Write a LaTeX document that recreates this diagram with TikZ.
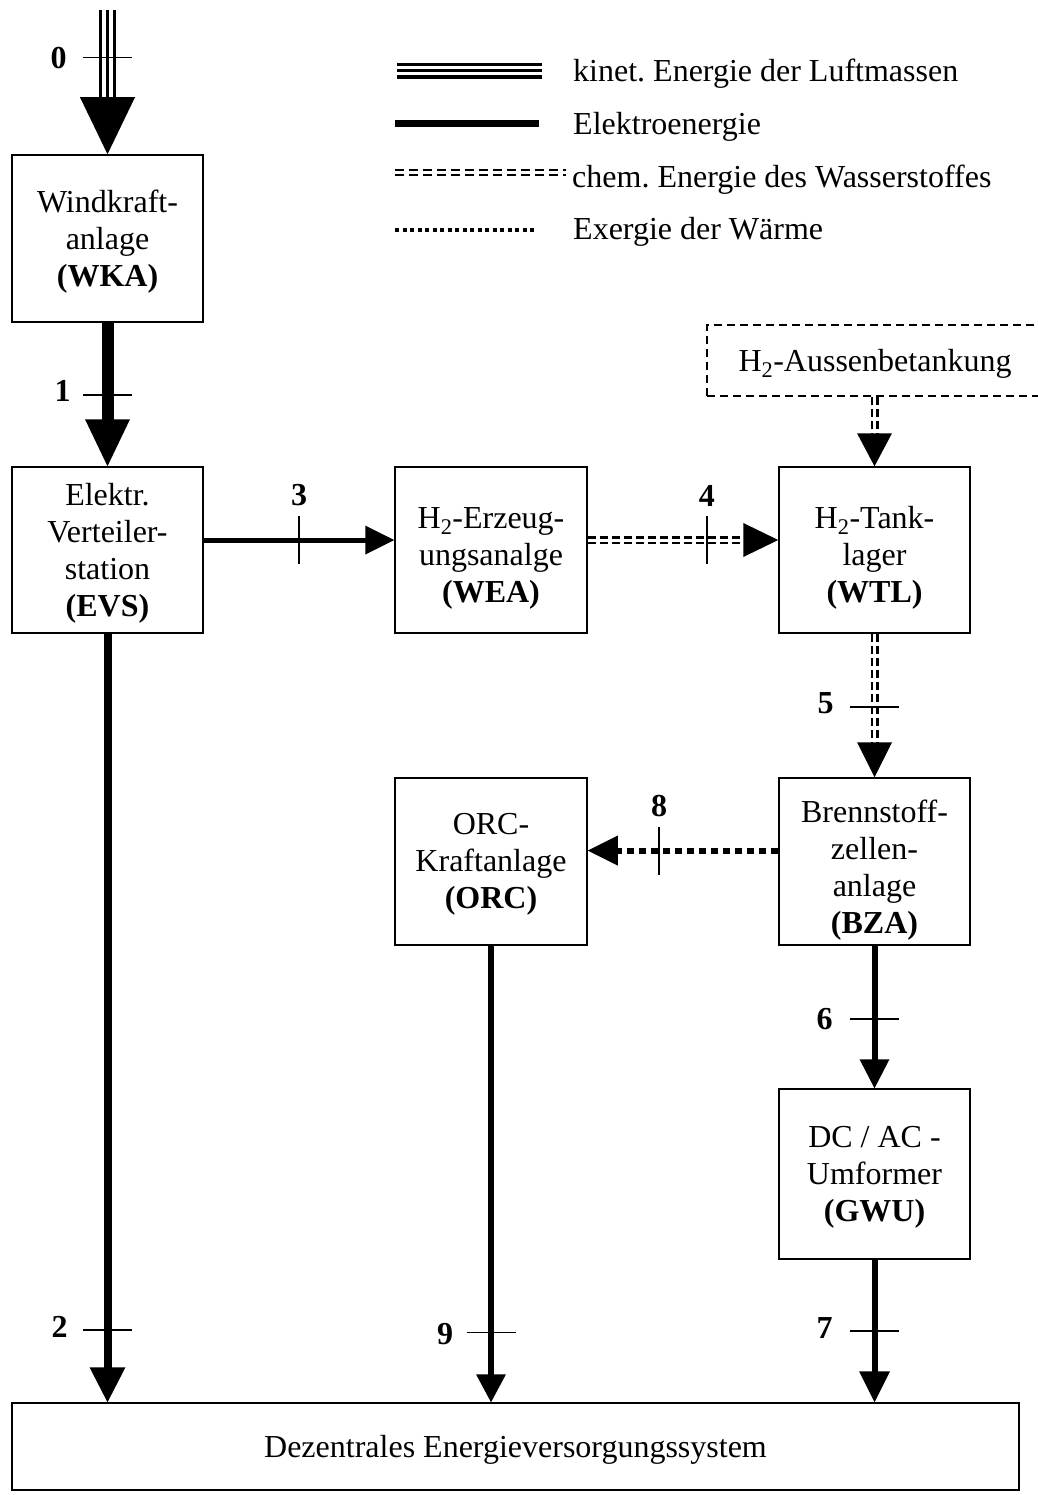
\documentclass[tikz,border=0pt]{standalone}
\usepackage{fontspec}
\setmainfont{Liberation Serif}
\frenchspacing
% filled arrow heads: #1 tip, #2 length, #3 width
\newcommand\hdown[3]{\fill (#1) -- ++({-(#3)/2},{-(#2)}) -- ++({#3},0) -- cycle;}
\newcommand\hright[3]{\fill (#1) -- ++({-(#2)},{-(#3)/2}) -- ++(0,{#3}) -- cycle;}
\newcommand\hleft[3]{\fill (#1) -- ++({#2},{-(#3)/2}) -- ++(0,{#3}) -- cycle;}
\begin{document}
\begin{tikzpicture}[x=1pt,y=-1pt,
  txt/.style={align=center, inner sep=0pt, font=\fontsize{32}{37}\selectfont},
  box/.style={draw, line width=1.5pt, inner sep=0pt},
  unit/.style={box, minimum width=191pt, minimum height=167pt},
  inner/.style={label={[txt, yshift=-3pt]center:#1}},
  num/.style={font=\fontsize{32}{37}\selectfont\bfseries, inner sep=0pt},
  legtext/.style={txt, anchor=west},
  tick/.style={line width=1.5pt},
  chem/.style={double, line width=2.5pt, double distance=3pt, dash pattern=on 8pt off 4pt},
  heat/.style={line width=6pt, dash pattern=on 7pt off 5pt},
  wind/.style={double, line width=3pt, double distance=11pt},
]
\useasboundingbox (0,0) rectangle (1037,1495);

% ---------- legend ----------
\coordinate (ka) at (397,70.7);  \coordinate (kb) at (542,70.7);
\draw[double, line width=3.5pt, double distance=9pt] (ka) -- (kb);
\draw[line width=3.5pt] (ka) -- (kb);
\node[legtext] (lk) at (573,74) {kinet. Energie der Luftmassen};

\coordinate (ea) at (395,123.5); \coordinate (eb) at (539,123.5);
\draw[line width=7pt] (ea) -- (eb);
\node[legtext] (le) at (573,127) {Elektroenergie};

\coordinate (ca) at (395,172.5); \coordinate (cb) at (566,172.5);
\draw[double, line width=2pt, double distance=2.5pt, dash pattern=on 9pt off 5pt] (ca) -- (cb);
\node[legtext] (lc) at (572,180) {chem. Energie des Wasserstoffes};

\coordinate (xa) at (395,230); \coordinate (xb) at (536,230);
\draw[line width=4.5pt, dash pattern=on 4pt off 3.5pt] (xa) -- (xb);
\node[legtext] (lx) at (573,232) {Exergie der Wärme};

% ---------- units ----------
\node[unit, inner={Windkraft-\\anlage\\\textbf{(WKA)}}] (wka) at (107.5,238.5) {};
\node[unit, minimum height=166pt, inner={Elektr.\\Verteiler-\\station\\\textbf{(EVS)}}] (evs) at (107.5,550) {};
\node[unit, minimum width=192pt, minimum height=166pt,
      label={[txt, yshift=-8pt]center:H\textsubscript{2}-Erzeug-\\ungsanalge\\\textbf{(WEA)}}] (wea) at (491,550) {};
\node[unit, minimum height=166pt,
      label={[txt, yshift=-8pt]center:H\textsubscript{2}-Tank-\\lager\\\textbf{(WTL)}}] (wtl) at (874.5,550) {};
\node[box, dash pattern=on 8pt off 5pt, minimum width=336pt, minimum height=71pt,
      inner={H\textsubscript{2}-Aussenbetankung}] (aus) at (875,360.5) {};
\node[unit, minimum width=192pt, inner={ORC-\\Kraftanlage\\\textbf{(ORC)}}] (orc) at (491,861.5) {};
\node[unit, label={[txt, yshift=-9pt]center:Brennstoff-\\zellen-\\anlage\\\textbf{(BZA)}}] (bza) at (874.5,861.5) {};
\node[unit, minimum height=170pt, inner={DC / AC -\\Umformer\\\textbf{(GWU)}}] (gwu) at (874.5,1174) {};
\node[box, minimum width=1007pt, minimum height=87pt,
      inner={Dezentrales Energieversorgungssystem}] (des) at (515.5,1446.5) {};

% ---------- flows ----------
\coordinate (src) at (107.5,10);
% 0: wind energy
\draw[wind, shorten >=56pt] (src) -- coordinate[pos=0.331] (t0) (wka.north);
\draw[line width=3pt, shorten >=56pt] (src) -- (wka.north);
\hdown{wka.north}{57}{55}
% 1
\draw[line width=12pt, shorten >=46pt] (wka.south) -- coordinate[pos=0.503] (t1) (evs.north);
\hdown{evs.north}{47}{45}
% 2
\draw[line width=8pt, shorten >=34pt] (evs.south) -- coordinate[pos=0.906] (t2) (evs.south |- des.north);
\hdown{evs.south |- des.north}{35}{36}
% 3
\draw[line width=5pt, shorten >=28pt] ([yshift=10pt]evs.east) -- coordinate[pos=0.5] (t3) ([yshift=10pt]wea.west);
\hright{[yshift=10pt]wea.west}{29}{29}
% 4
\draw[chem, shorten >=34pt] ([yshift=10pt]wea.east) -- coordinate[pos=0.625] (t4) ([yshift=10pt]wtl.west);
\hright{[yshift=10pt]wtl.west}{35}{34}
% external hydrogen supply
\draw[chem, shorten >=32pt] (wtl.north |- aus.south) -- (wtl.north);
\hdown{wtl.north}{33}{35}
% 5
\draw[chem, shorten >=34pt] (wtl.south) -- coordinate[pos=0.51] (t5) (bza.north);
\hdown{bza.north}{35}{35}
% 8: heat exergy
\draw[heat, shorten >=29pt] ([yshift=11pt]bza.west) -- coordinate[pos=0.625] (t8) ([yshift=11pt]orc.east);
\hleft{[yshift=11pt]orc.east}{30}{30}
% 6
\draw[line width=6pt, shorten >=28pt] (bza.south) -- coordinate[pos=0.514] (t6) (gwu.north);
\hdown{gwu.north}{29}{30}
% 7
\draw[line width=6pt, shorten >=30pt] (gwu.south) -- coordinate[pos=0.5] (t7) (gwu.south |- des.north);
\hdown{gwu.south |- des.north}{31}{31}
% 9
\draw[line width=6.5pt, shorten >=27pt] (orc.south) -- coordinate[pos=0.847] (t9) (orc.south |- des.north);
\hdown{orc.south |- des.north}{28}{30}

% ---------- balance cuts ----------
\foreach \t in {t0,t1,t2,t5,t6,t7,t9}
  \draw[tick] (\t) ++(-24.5,0) -- ++(49,0);
\foreach \t in {t3,t4,t8}
  \draw[tick] (\t) ++(0,-24) -- ++(0,48);

\node[num] (n0) at ([xshift=-49pt]t0) {0};
\node[num] (n1) at ([xshift=-45pt,yshift=4pt]t1) {1};
\node[num] (n2) at ([xshift=-48pt,yshift=3pt]t2) {2};
\node[num] (n9) at ([xshift=-46pt,yshift=-2pt]t9) {9};
\node[num] (n7) at ([xshift=-50pt,yshift=3pt]t7) {7};
\node[num] (n6) at ([xshift=-50pt]t6) {6};
\node[num] (n5) at ([xshift=-49pt,yshift=4pt]t5) {5};
\node[num] (n3) at ([yshift=45pt]t3) {3};
\node[num] (n4) at ([yshift=44pt]t4) {4};
\node[num] (n8) at ([yshift=44pt]t8) {8};
\end{tikzpicture}
\end{document}
